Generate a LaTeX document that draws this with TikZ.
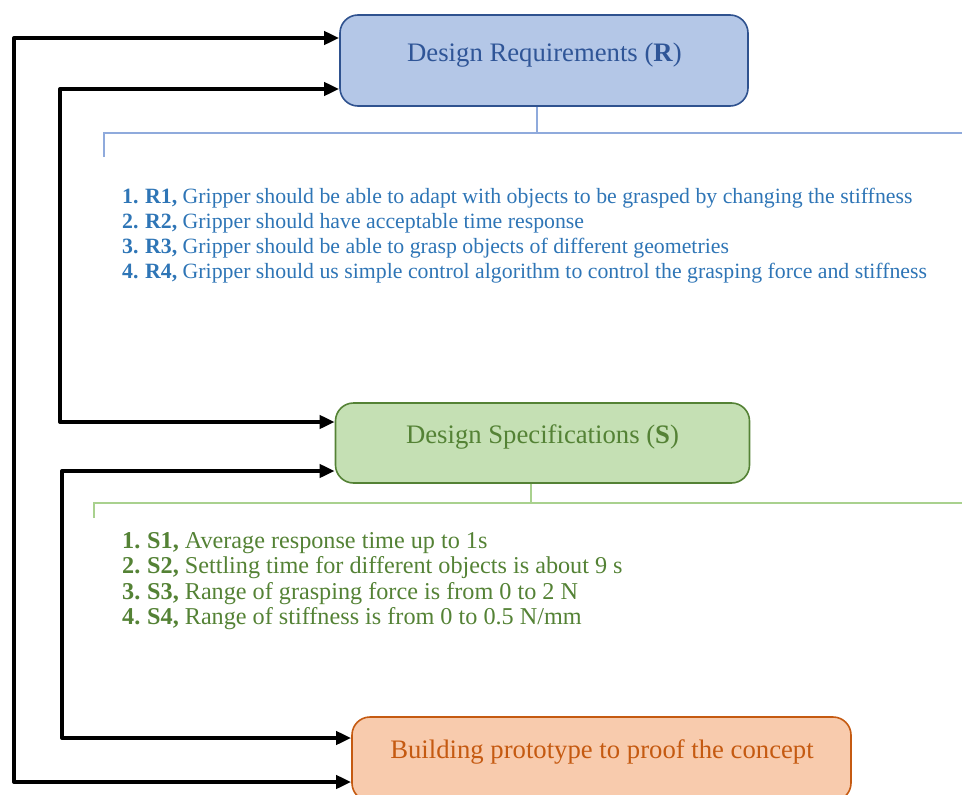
\documentclass[tikz,border=0pt]{standalone}
\usepackage{fontspec}
\setmainfont{Liberation Serif}
\usetikzlibrary{arrows.meta}

\definecolor{rfill}{HTML}{B4C7E7}
\definecolor{rdraw}{HTML}{2F528F}
\definecolor{rtitle}{HTML}{2F5597}
\definecolor{rtext}{HTML}{2E75B6}
\definecolor{rrule}{HTML}{8FAADC}
\definecolor{sfill}{HTML}{C5E0B4}
\definecolor{sdraw}{HTML}{548235}
\definecolor{srule}{HTML}{A9D18E}
\definecolor{pfill}{HTML}{F8CBAD}
\definecolor{pdraw}{HTML}{C55A11}

\tikzset{
  stagebox/.style={rounded corners=18pt, line width=1.6pt, inner sep=0pt},
  rbox/.style={stagebox, fill=rfill, draw=rdraw},
  sbox/.style={stagebox, fill=sfill, draw=sdraw},
  pbox/.style={stagebox, fill=pfill, draw=pdraw},
  title/.style={anchor=base, inner sep=0pt, font=\fontsize{26.7}{30}\selectfont},
  ritem/.style={anchor=base west, inner sep=0pt, text=rtext, font=\fontsize{21.8}{25}\selectfont},
  sitem/.style={anchor=base west, inner sep=0pt, text=sdraw, font=\fontsize{24.2}{26}\selectfont},
  rrulestyle/.style={draw=rrule, line width=1.4pt},
  srulestyle/.style={draw=srule, line width=1.4pt},
  fb/.style={line width=4pt, line join=round,
    {Triangle[length=15pt,width=13pt]}-{Triangle[length=15pt,width=13pt]}},
}

\begin{document}
\begin{tikzpicture}[x=1pt, y=-1pt]
\useasboundingbox (0,0) rectangle (962,795);

% stage boxes
\node[rbox, minimum width=408pt, minimum height=91pt] (R) at (544,60.5) {};
\node[sbox, minimum width=414pt, minimum height=80pt] (S) at (542.5,443) {};
\node[pbox, minimum width=499pt, minimum height=84pt] (P) at (601.5,759) {};

% box titles
\node[title, text=rtitle] (Rt) at (544.5,61) {Design Requirements (\textbf{R})};
\node[title, text=sdraw] (St) at (542.5,443.5) {Design Specifications (\textbf{S})};
\node[title, text=pdraw] (Pt) at (602,758.5) {Building prototype to proof the concept};

% requirement bracket and list
\coordinate (rjoin) at (537,133);
\coordinate (rtick) at (104,157);
\coordinate (rend) at (962,133);
\draw[rrulestyle] (R.south -| rjoin) -- (rjoin);
\draw[rrulestyle] (rtick) |- (rend);

\node[ritem] (r1) at (122,203.5) {\makebox[23pt][l]{\textbf{1.}}\textbf{R1,} Gripper should be able to adapt with objects to be grasped by changing the stiffness};
\node[ritem] (r2) at (122,228.5) {\makebox[23pt][l]{\textbf{2.}}\textbf{R2,} Gripper should have acceptable time response};
\node[ritem] (r3) at (122,253.5) {\makebox[23pt][l]{\textbf{3.}}\textbf{R3,} Gripper should be able to grasp objects of different geometries};
\node[ritem] (r4) at (122,278.5) {\makebox[23pt][l]{\textbf{4.}}\textbf{R4,} Gripper should us simple control algorithm to control the grasping force and stiffness};

% specification bracket and list
\coordinate (sjoin) at (531,503);
\coordinate (stick) at (94,518);
\coordinate (send) at (962,503);
\draw[srulestyle] (S.south -| sjoin) -- (sjoin);
\draw[srulestyle] (stick) |- (send);

\node[sitem] (s1) at (122,548) {\makebox[25pt][l]{\textbf{1.}}\textbf{S1,} Average response time up to 1s};
\node[sitem] (s2) at (122,573.5) {\makebox[25pt][l]{\textbf{2.}}\textbf{S2,} Settling time for different objects is about 9 s};
\node[sitem] (s3) at (122,599) {\makebox[25pt][l]{\textbf{3.}}\textbf{S3,} Range of grasping force is from 0 to 2 N};
\node[sitem] (s4) at (122,624.5) {\makebox[25pt][l]{\textbf{4.}}\textbf{S4,} Range of stiffness is from 0 to 0.5 N/mm};

% feedback loops
\coordinate (o1) at (14,38);
\coordinate (o2) at (14,782);
\draw[fb] (o1 -| R.west) -- (o1) -- (o2) -- (o2 -| P.west);

\coordinate (i1) at (60,89);
\coordinate (i2) at (60,422);
\draw[fb] (i1 -| R.west) -- (i1) -- (i2) -- (i2 -| S.west);

\coordinate (j1) at (62,471);
\coordinate (j2) at (62,738);
\draw[fb] (j1 -| S.west) -- (j1) -- (j2) -- (j2 -| P.west);
\end{tikzpicture}
\end{document}
